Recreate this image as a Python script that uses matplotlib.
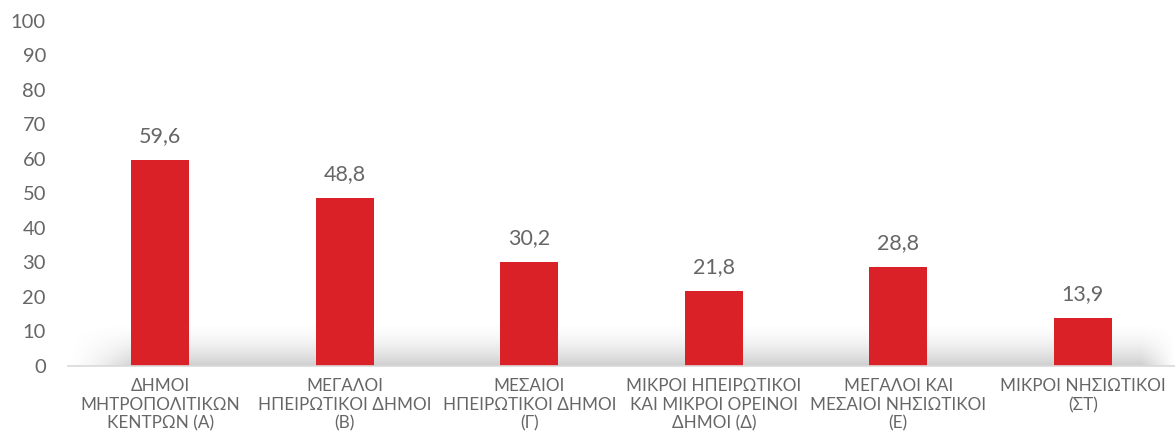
import matplotlib
matplotlib.use("Agg")
import matplotlib.pyplot as plt
import numpy as np

categories = ["ΔΗΜΟΙ\nΜΗΤΡΟΠΟΛΙΤΙΚΩΝ\nΚΕΝΤΡΩΝ (Α)",
              "ΜΕΓΑΛΟΙ\nΗΠΕΙΡΩΤΙΚΟΙ ΔΗΜΟΙ\n(Β)",
              "ΜΕΣΑΙΟΙ\nΗΠΕΙΡΩΤΙΚΟΙ ΔΗΜΟΙ\n(Γ)",
              "ΜΙΚΡΟΙ ΗΠΕΙΡΩΤΙΚΟΙ\nΚΑΙ ΜΙΚΡΟΙ ΟΡΕΙΝΟΙ\nΔΗΜΟΙ (Δ)",
              "ΜΕΓΑΛΟΙ ΚΑΙ\nΜΕΣΑΙΟΙ ΝΗΣΙΩΤΙΚΟΙ\n(Ε)",
              "ΜΙΚΡΟΙ ΝΗΣΙΩΤΙΚΟΙ\n(ΣΤ)"]
values = [59.6, 48.8, 30.2, 21.8, 28.8, 13.9]
yticks = list(range(0, 101, 10))

plt.rcParams['font.family'] = ['Lato', 'DejaVu Sans']
TXT = "#666666"
RED = "#DA2128"

fig = plt.figure(figsize=(11.75, 4.42), dpi=100)
ax = fig.add_axes([0.058, 0.172, 0.942, 0.7805])
x = np.arange(len(values))

# soft grey shadow just above the baseline
h, wpx = 80, 600
vy = np.linspace(1, 0, h)[:, None] ** 1.8
hx = np.linspace(0, 1, wpx)[None, :]
edge = np.clip(hx / 0.06, 0, 1) ** 1.5 * np.clip((1 - hx) / 0.03, 0, 1)
rgba = np.zeros((h, wpx, 4))
rgba[..., :3] = 0.5
rgba[..., 3] = 0.38 * vy * edge
ax.imshow(rgba, extent=[-0.5, len(values) - 0.5, 0, 13], origin="lower",
          aspect="auto", zorder=1, interpolation="bilinear")

ax.bar(x, values, 0.315, color=RED, zorder=2)
for i, v in enumerate(values):
    ax.annotate(f"{v:.1f}".replace(".", ","), (i, v), xytext=(0, 10),
                textcoords="offset points", ha="center", va="bottom",
                fontsize=15.5, color=TXT)

ax.set_xlim(-0.5, len(values) - 0.5)
ax.set_ylim(0, 100)
ax.set_yticks(yticks)
ax.set_yticklabels([str(t) for t in yticks], fontsize=14.5, color=TXT)
ax.set_xticks(x)
ax.set_xticklabels(categories, fontsize=12.3, color=TXT, linespacing=1.2)
ax.tick_params(axis="y", length=0, pad=16)
ax.tick_params(axis="x", length=0, pad=9)
for s in ["top", "right", "left"]:
    ax.spines[s].set_visible(False)
ax.spines["bottom"].set_color("#D9D9D9")
ax.spines["bottom"].set_linewidth(1.2)

fig.savefig("out.png", dpi=100)
